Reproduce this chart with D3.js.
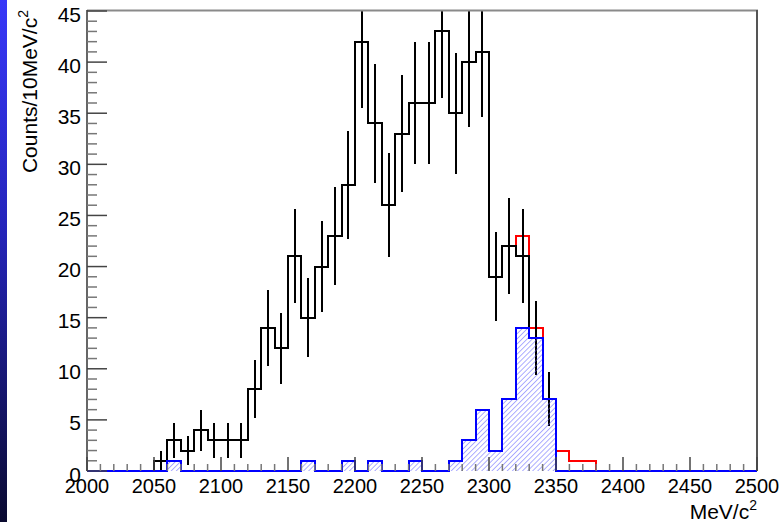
<!DOCTYPE html>
<html>
<head>
<meta charset="utf-8">
<script src="https://cdn.jsdelivr.net/npm/d3@7"></script>
<style>
  html, body { margin: 0; padding: 0; background: #ffffff; }
  svg { display: block; }
  text { font-family: "Liberation Sans", Arial, Helvetica, sans-serif; fill: #000; }
</style>
</head>
<body>
<svg id="chart" width="782" height="522"></svg>
<script>
// Mass histogram, 10 MeV bins from 2000 to 2500 MeV/c^2
const binLow = 2000;
const binWidth = 10;

// Data counts per bin (50 bins)
const dataCounts = [
  0, 0, 0, 0, 0, 1, 3, 2, 4, 3,
  3, 3, 8, 14, 12, 21, 15, 20, 23, 28,
  42, 34, 26, 33, 36, 36, 43, 35, 40, 41,
  19, 22, 21, 13, 7, 0, 0, 0, 0, 0,
  0, 0, 0, 0, 0, 0, 0, 0, 0, 0
];

// Total expectation (red outline)
const totalCounts = [
  0, 0, 0, 0, 0, 1, 3, 2, 4, 3,
  3, 3, 8, 14, 12, 21, 15, 20, 23, 28,
  42, 34, 26, 33, 36, 36, 43, 35, 40, 41,
  19, 22, 23, 14, 7, 2, 1, 1, 0, 0,
  0, 0, 0, 0, 0, 0, 0, 0, 0, 0
];

// Selected component (blue hatched)
const blueCounts = [
  0, 0, 0, 0, 0, 0, 1, 0, 0, 0,
  0, 0, 0, 0, 0, 0, 1, 0, 0, 1,
  0, 1, 0, 0, 1, 0, 0, 1, 3, 6,
  2, 7, 14, 13, 7, 0, 0, 0, 0, 0,
  0, 0, 0, 0, 0, 0, 0, 0, 0, 0
];

const xTickLabels = ["2000", "2050", "2100", "2150", "2200", "2250", "2300", "2350", "2400", "2450", "2500"];
const yTickLabels = ["0", "5", "10", "15", "20", "25", "30", "35", "40", "45"];

const svg = d3.select("#chart");
const W = 782, H = 522;
const plot = { left: 87, right: 757, top: 11, bottom: 471 };

const x = d3.scaleLinear().domain([2000, 2500]).range([plot.left, plot.right]);
const y = d3.scaleLinear().domain([0, 45]).range([plot.bottom, plot.top]);

const defs = svg.append("defs");

// Left edge band
const grad = defs.append("linearGradient")
  .attr("id", "edgeBand").attr("x1", 0).attr("y1", 0).attr("x2", 0).attr("y2", 1);
grad.append("stop").attr("offset", "0%").attr("stop-color", "#3838f8");
grad.append("stop").attr("offset", "45%").attr("stop-color", "#2424b8");
grad.append("stop").attr("offset", "100%").attr("stop-color", "#0a0a30");
svg.append("rect").attr("x", 0).attr("y", 0).attr("width", 7).attr("height", H)
  .attr("fill", "url(#edgeBand)");

// Diagonal hatching for the blue histogram
const hatch = defs.append("pattern")
  .attr("id", "hatch")
  .attr("patternUnits", "userSpaceOnUse")
  .attr("width", 3.6).attr("height", 3.6)
  .attr("patternTransform", "rotate(45)");
hatch.append("line")
  .attr("x1", 0).attr("y1", 0).attr("x2", 0).attr("y2", 3.6)
  .attr("stroke", "#5b5bff").attr("stroke-width", 1);

defs.append("clipPath").attr("id", "plotClip")
  .append("rect")
  .attr("x", plot.left).attr("y", y(45) - 1)
  .attr("width", plot.right - plot.left).attr("height", plot.bottom - y(45) + 2);

// Build a step outline for a histogram
function stepPath(values) {
  const p = d3.path();
  p.moveTo(x(binLow), y(0));
  values.forEach((v, i) => {
    const e0 = binLow + i * binWidth, e1 = e0 + binWidth;
    p.lineTo(x(e0), y(v));
    p.lineTo(x(e1), y(v));
  });
  p.lineTo(x(binLow + values.length * binWidth), y(0));
  return p.toString();
}

const g = svg.append("g").attr("clip-path", "url(#plotClip)");

// Red total
g.append("path").attr("d", stepPath(totalCounts))
  .attr("fill", "none").attr("stroke", "#ff0000").attr("stroke-width", 2)
  .attr("shape-rendering", "crispEdges");

// Black data histogram
g.append("path").attr("d", stepPath(dataCounts))
  .attr("fill", "none").attr("stroke", "#000").attr("stroke-width", 2)
  .attr("shape-rendering", "crispEdges");

// Data error bars (sqrt N)
g.selectAll("line.err")
  .data(dataCounts.map((v, i) => ({ v, c: binLow + (i + 0.5) * binWidth })).filter(d => d.v > 0))
  .join("line")
  .attr("class", "err")
  .attr("x1", d => x(d.c)).attr("x2", d => x(d.c))
  .attr("y1", d => y(d.v - Math.sqrt(d.v)))
  .attr("y2", d => y(d.v + Math.sqrt(d.v)))
  .attr("stroke", "#000").attr("stroke-width", 2)
  .attr("shape-rendering", "crispEdges");

// Blue hatched histogram
g.append("path").attr("d", stepPath(blueCounts) + "Z")
  .attr("fill", "url(#hatch)").attr("stroke", "none");
g.append("path").attr("d", stepPath(blueCounts))
  .attr("fill", "none").attr("stroke", "#0000ff").attr("stroke-width", 2)
  .attr("shape-rendering", "crispEdges");

// Frame
svg.append("line").attr("x1", plot.left).attr("x2", plot.right + 1)
  .attr("y1", 10.5).attr("y2", 10.5).attr("stroke", "#8a8a8a").attr("stroke-width", 2);
svg.append("line").attr("x1", plot.right).attr("x2", plot.right)
  .attr("y1", 10).attr("y2", plot.bottom).attr("stroke", "#555").attr("stroke-width", 2);
svg.append("line").attr("x1", plot.left).attr("x2", plot.left)
  .attr("y1", 10).attr("y2", plot.bottom).attr("stroke", "#333").attr("stroke-width", 1.5);

// Y axis ticks
const yMajor = yTickLabels.map(Number);
const yMinor = d3.range(0, 46, 1).filter(v => v % 5 !== 0);
const yAx = svg.append("g");
yAx.selectAll("line.maj").data(yMajor).join("line")
  .attr("x1", plot.left).attr("x2", plot.left + 20)
  .attr("y1", d => y(d)).attr("y2", d => y(d))
  .attr("stroke", "#444").attr("stroke-width", 1.5);
yAx.selectAll("line.min").data(yMinor).join("line")
  .attr("x1", plot.left).attr("x2", plot.left + 10)
  .attr("y1", d => y(d)).attr("y2", d => y(d))
  .attr("stroke", "#777").attr("stroke-width", 1.5);
yAx.selectAll("text").data(yTickLabels).join("text")
  .attr("x", 81).attr("y", d => y(+d) + 10.5)
  .attr("text-anchor", "end").attr("font-size", 21)
  .text(d => d);

// X axis ticks
const xMajor = xTickLabels.map(Number);
const xMinor = d3.range(2000, 2501, 10).filter(v => v % 50 !== 0);
const xAx = svg.append("g");
xAx.selectAll("line.maj").data(xMajor).join("line")
  .attr("x1", d => x(d)).attr("x2", d => x(d))
  .attr("y1", plot.bottom).attr("y2", plot.bottom - 14)
  .attr("stroke", "#444").attr("stroke-width", 1.5);
xAx.selectAll("line.min").data(xMinor).join("line")
  .attr("x1", d => x(d)).attr("x2", d => x(d))
  .attr("y1", plot.bottom).attr("y2", plot.bottom - 7)
  .attr("stroke", "#777").attr("stroke-width", 1.5);
xAx.selectAll("text").data(xTickLabels).join("text")
  .attr("x", d => x(+d)).attr("y", 493)
  .attr("text-anchor", "middle").attr("font-size", 20)
  .text(d => d);

// Axis titles
const xt = svg.append("text").attr("x", 757).attr("y", 519)
  .attr("text-anchor", "end").attr("font-size", 21);
xt.append("tspan").text("MeV/c");
xt.append("tspan").attr("font-size", 14).attr("dy", -9).text("2");

const yt = svg.append("text")
  .attr("transform", "translate(37,10) rotate(-90)")
  .attr("text-anchor", "end").attr("font-size", 21);
yt.append("tspan").text("Counts/10MeV/c");
yt.append("tspan").attr("font-size", 14).attr("dy", -9).text("2");
</script>
</body>
</html>
